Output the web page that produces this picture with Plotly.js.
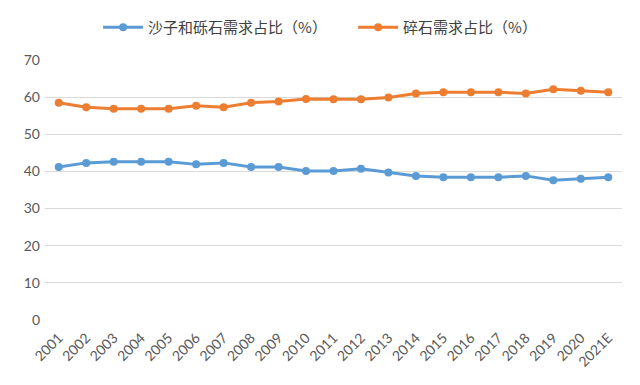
<!DOCTYPE html>
<html><head><meta charset="utf-8">
<script src="https://cdn.plot.ly/plotly-3.0.1.min.js"></script>
<style>html,body{margin:0;padding:0;background:#fff}</style>
</head><body>
<div id="chart" style="width:640px;height:385px"></div>
<script>
var years = ["2001","2002","2003","2004","2005","2006","2007","2008","2009","2010","2011","2012","2013","2014","2015","2016","2017","2018","2019","2020","2021E"];
var sandGravel = [41.2,42.3,42.6,42.6,42.6,41.9,42.3,41.2,41.2,40.1,40.1,40.7,39.7,38.8,38.4,38.4,38.4,38.8,37.6,38.0,38.4];
var crushedStone = [58.5,57.3,56.9,56.9,56.9,57.7,57.3,58.5,58.8,59.5,59.4,59.4,59.9,61.0,61.3,61.3,61.3,61.0,62.1,61.7,61.3];
var seriesNames = ["沙子和砾石需求占比（%）","碎石需求占比（%）"];
var yTicks = [0,10,20,30,40,50,60,70];

var traces = [
  {x: years, y: sandGravel, name: seriesNames[0], type: "scatter", mode: "lines+markers", legend: "legend",
   line: {color: "#5B9BD5", width: 3}, marker: {color: "#5B9BD5", size: 8}},
  {x: years, y: crushedStone, name: seriesNames[1], type: "scatter", mode: "lines+markers", legend: "legend2",
   line: {color: "#ED7D31", width: 3}, marker: {color: "#ED7D31", size: 8}}
];
var legFont = {family: "'Noto Sans CJK SC', sans-serif", size: 15, color: "#404040"};
var layout = {
  width: 640, height: 385,
  margin: {l: 45, r: 18, t: 60, b: 65, autoexpand: false},
  paper_bgcolor: "#ffffff", plot_bgcolor: "#ffffff",
  font: {family: "Lato, 'Noto Sans CJK SC', sans-serif", color: "#595959", size: 13},
  showlegend: true,
  legend: {orientation: "h", x: 0.092, xanchor: "left", y: 1.125, yanchor: "middle", font: legFont, itemwidth: 40},
  legend2: {orientation: "h", x: 0.534, xanchor: "left", y: 1.125, yanchor: "middle", font: legFont, itemwidth: 40},
  xaxis: {type: "category", range: [-0.5, years.length - 0.5], tickangle: -45, showgrid: false, zeroline: false, showline: false, automargin: false,
    ticks: "", tickfont: {size: 14, color: "#595959"}, ticklabelstandoff: 6},
  yaxis: {range: [0, 70], tickvals: yTicks, showgrid: true, gridcolor: "#D9D9D9", gridwidth: 1, automargin: false,
    zeroline: false, showline: false, ticks: "", tickfont: {size: 14, color: "#595959"}, ticklabelstandoff: 4}
};
Plotly.newPlot("chart", traces, layout, {displayModeBar: false, staticPlot: true});
</script>
</body></html>
